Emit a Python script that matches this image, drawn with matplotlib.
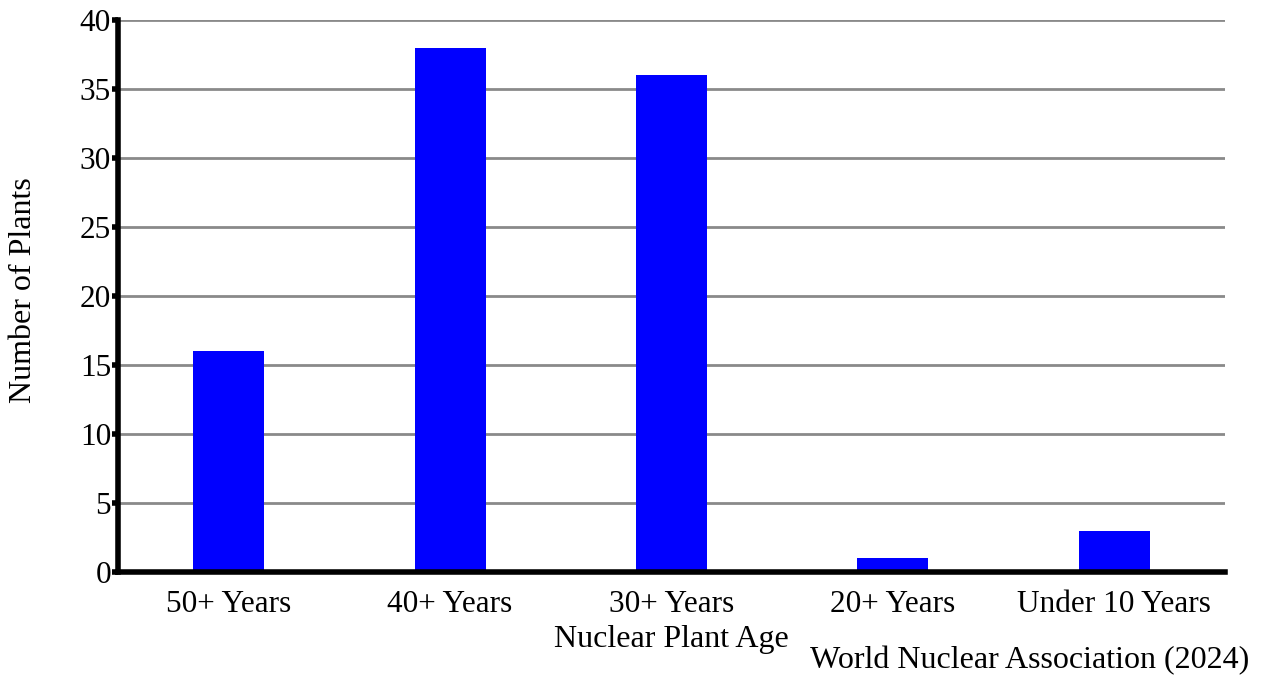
import matplotlib.pyplot as plt
import numpy as np

plt.rcParams['font.family'] = ['Liberation Serif', 'DejaVu Serif']

# --- Data ---
ages = ["50+ Years", "40+ Years", "30+ Years", "20+ Years", "Under 10 Years"]
plants = [16, 38, 36, 1, 3]
y_ticks = [0, 5, 10, 15, 20, 25, 30, 35, 40]

fig = plt.figure(figsize=(12.66, 6.78), dpi=100)
ax = fig.add_axes([0.0932, 0.1563, 0.8744, 0.8142])

x = np.arange(len(ages))
ax.bar(x, plants, width=0.32, color="#0000ff", zorder=3)

ax.set_xlim(-0.5, len(ages) - 0.5)
ax.set_ylim(0, 40)
ax.set_yticks(y_ticks)
ax.set_xticks(x)
ax.set_xticklabels(ages)

# gridlines
for y in y_ticks[1:]:
    ax.axhline(y, color="#8a8a8a", linewidth=2.0, zorder=1)

# axes styling
for side in ["top", "right"]:
    ax.spines[side].set_visible(False)
ax.spines["left"].set_linewidth(4)
ax.spines["bottom"].set_linewidth(4)
ax.spines["left"].set_zorder(4)
ax.spines["bottom"].set_zorder(4)
ax.tick_params(axis="y", length=4, width=4, labelsize=22.5, pad=1)
ax.tick_params(axis="x", length=0, labelsize=22.5, pad=13)

ax.set_xlabel("Nuclear Plant Age", fontsize=23)
ax.xaxis.set_label_coords(0.5, -0.096)
ax.set_ylabel("Number of Plants", fontsize=23)
ax.yaxis.set_label_coords(-0.072, 0.51)
fig.text(0.987, 0.025, "World Nuclear Association (2024)", fontsize=23,
         ha="right", va="center")

fig.savefig("out.png", dpi=100)
